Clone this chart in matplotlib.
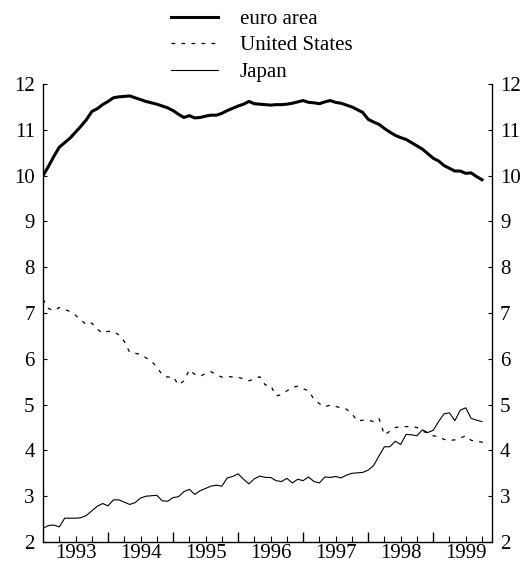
import matplotlib
matplotlib.use("Agg")
import matplotlib.pyplot as plt
import numpy as np

# monthly values, Jan 1993 onwards
euro_area = [10.00, 10.20, 10.42, 10.62, 10.72, 10.82, 10.95, 11.08, 11.22, 11.40,
             11.46, 11.55, 11.62, 11.70, 11.72, 11.73, 11.74, 11.70, 11.66, 11.62,
             11.59, 11.56, 11.52, 11.48, 11.42, 11.34, 11.27, 11.31, 11.26, 11.27,
             11.30, 11.32, 11.32, 11.36, 11.42, 11.47, 11.52, 11.56, 11.62, 11.57,
             11.56, 11.55, 11.54, 11.55, 11.55, 11.56, 11.58, 11.61, 11.64, 11.60,
             11.59, 11.57, 11.61, 11.64, 11.60, 11.58, 11.54, 11.50, 11.44, 11.38,
             11.23, 11.17, 11.12, 11.03, 10.95, 10.88, 10.83, 10.79, 10.72, 10.65,
             10.58, 10.48, 10.38, 10.32, 10.22, 10.16, 10.10, 10.10, 10.05, 10.06,
             9.98, 9.91]
united_states = [7.30, 7.10, 7.05, 7.12, 7.08, 7.03, 6.95, 6.85, 6.74, 6.78,
                 6.65, 6.56, 6.60, 6.60, 6.52, 6.38, 6.14, 6.12, 6.10, 6.02,
                 5.95, 5.82, 5.65, 5.60, 5.61, 5.43, 5.52, 5.76, 5.66, 5.62,
                 5.68, 5.72, 5.65, 5.60, 5.62, 5.60, 5.60, 5.56, 5.52, 5.56,
                 5.61, 5.43, 5.42, 5.19, 5.22, 5.30, 5.38, 5.40, 5.35, 5.30,
                 5.12, 5.02, 4.95, 4.99, 4.96, 4.93, 4.90, 4.80, 4.64, 4.66,
                 4.66, 4.63, 4.70, 4.34, 4.42, 4.50, 4.52, 4.52, 4.52, 4.50,
                 4.42, 4.38, 4.32, 4.30, 4.24, 4.22, 4.23, 4.27, 4.32, 4.22,
                 4.20, 4.18, 4.12]
japan = [2.30, 2.36, 2.37, 2.33, 2.52, 2.52, 2.52, 2.53, 2.58, 2.68,
         2.78, 2.84, 2.79, 2.92, 2.92, 2.87, 2.82, 2.86, 2.96, 3.00,
         3.01, 3.02, 2.90, 2.89, 2.97, 2.99, 3.10, 3.15, 3.04, 3.12,
         3.17, 3.22, 3.24, 3.22, 3.40, 3.43, 3.49, 3.37, 3.27, 3.38,
         3.44, 3.41, 3.41, 3.34, 3.32, 3.39, 3.29, 3.37, 3.34, 3.42,
         3.32, 3.29, 3.42, 3.41, 3.43, 3.40, 3.46, 3.50, 3.51, 3.52,
         3.57, 3.67, 3.88, 4.08, 4.08, 4.20, 4.13, 4.35, 4.34, 4.32,
         4.45, 4.39, 4.44, 4.63, 4.80, 4.82, 4.65, 4.88, 4.93, 4.70,
         4.66, 4.63]
years = [1993, 1994, 1995, 1996, 1997, 1998, 1999]

plt.rcParams['font.family'] = ['Liberation Serif', 'DejaVu Serif']

x_euro = 1993 + np.arange(len(euro_area)) / 12
x_us = 1993 + np.arange(len(united_states)) / 12
x_jp = 1993 + np.arange(len(japan)) / 12

fig = plt.figure(figsize=(5.22, 5.64), dpi=100)
ax = fig.add_axes([0.0824, 0.039, 0.8596, 0.812])

ax.plot(x_euro, euro_area, color="black", linewidth=2.2, label="euro area")
ax.plot(x_us, united_states, color="black", linewidth=0.9, dashes=(3, 5), label="United States")
ax.plot(x_jp, japan, color="black", linewidth=0.8, label="Japan")

ax.set_xlim(1993, 1999.9)
ax.set_ylim(2, 12)

ax.set_yticks(range(2, 13))
ax.tick_params(axis="y", which="both", direction="in", length=3, labelsize=15,
               left=True, right=True, labelleft=True, labelright=True, pad=6)

# year boundaries as long ticks, quarters as short ones, labels in mid-year
ax.set_xticks(years[1:], labels=[""] * (len(years) - 1))
quarters = []
quarter_labels = []
for y in years:
    for q in (0.25, 0.5, 0.75):
        quarters.append(y + q)
        quarter_labels.append(str(y) if q == 0.5 else "")
ax.set_xticks(quarters, labels=quarter_labels, minor=True)
ax.tick_params(axis="x", which="major", direction="in", length=7, width=1)
ax.tick_params(axis="x", which="minor", direction="in", length=4, width=0.8,
               labelsize=15, pad=1.5)

ax.spines["top"].set_visible(False)
for s in ("left", "right", "bottom"):
    ax.spines[s].set_linewidth(1)

ax.legend(loc="lower center", bbox_to_anchor=(0.487, 0.973), frameon=False,
          fontsize=15, handlelength=2.25, handletextpad=1.05, labelspacing=0.33,
          borderpad=0.2)

fig.savefig("out.png", dpi=100)
